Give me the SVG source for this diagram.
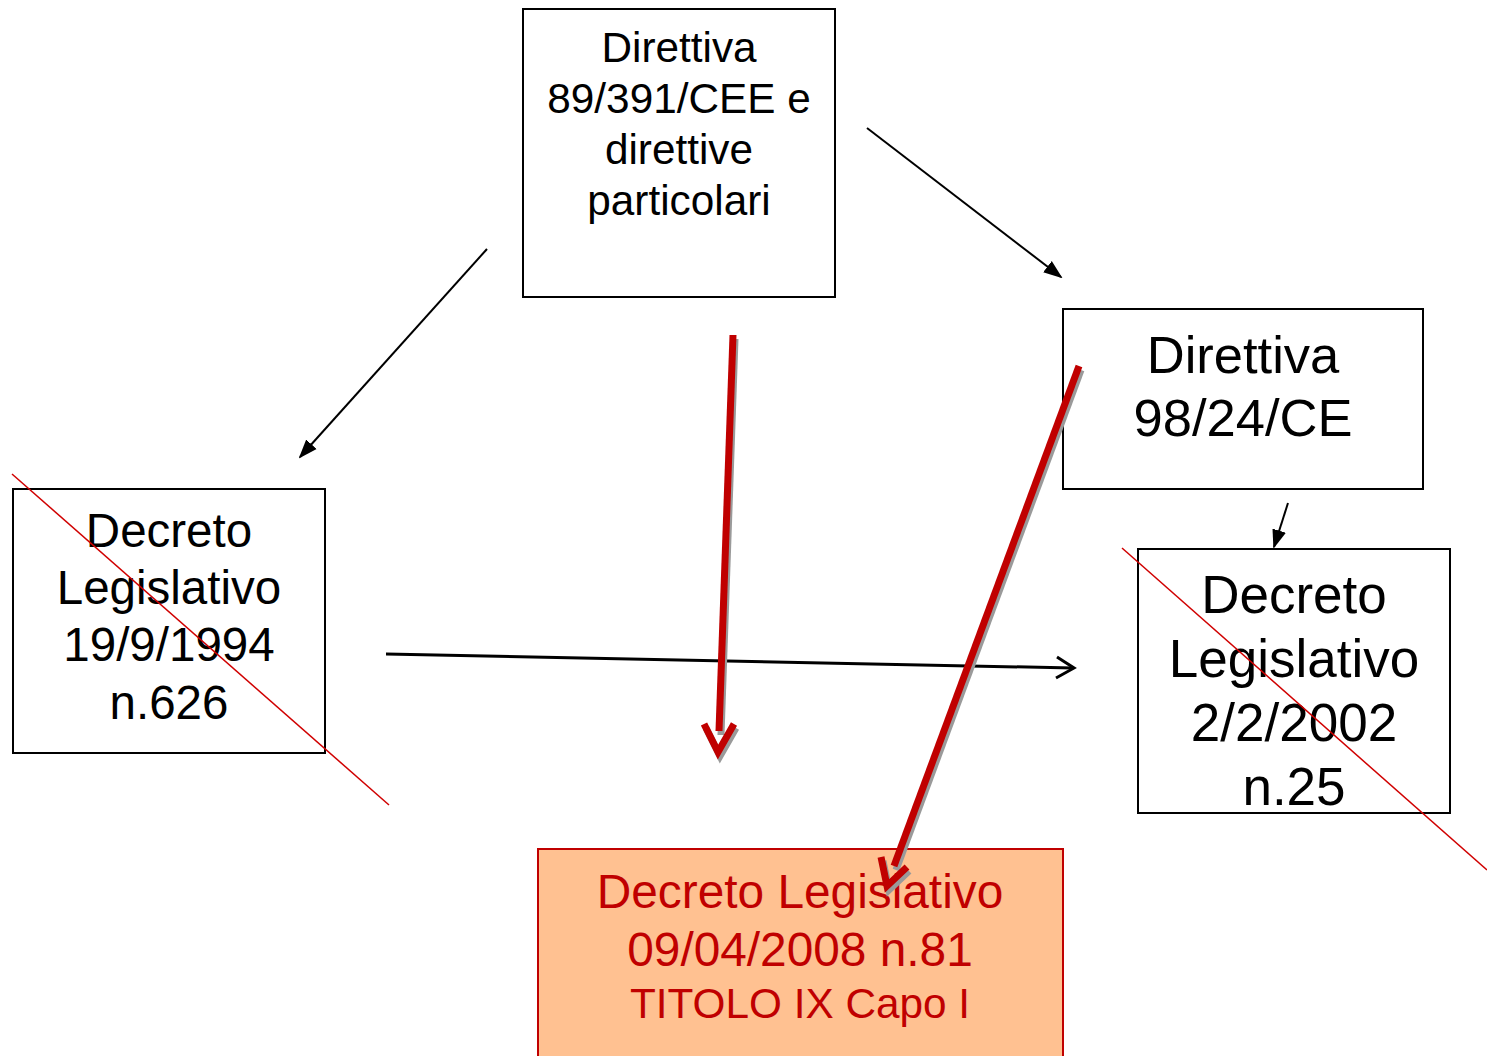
<svg xmlns="http://www.w3.org/2000/svg" width="1487" height="1056" viewBox="0 0 1487 1056">
<defs>
<style>
.box{fill:#fff;stroke:#000;stroke-width:2}
.t{font-family:"Liberation Sans",Arial,sans-serif;text-anchor:middle;fill:#000}
.r{fill:#C00000}
.thin{stroke:#000;stroke-width:2;fill:none}
.red{stroke:#C00000;stroke-width:7;fill:none}
.sh{stroke:#9a9a9a;stroke-width:7;fill:none}
.cross{stroke:#D00000;stroke-width:1.5;fill:none}
</style>
<marker id="tri" viewBox="0 0 10 10" refX="9" refY="5" markerWidth="19" markerHeight="19" markerUnits="userSpaceOnUse" orient="auto"><path d="M0,1.3 L10,5 L0,8.7 z" fill="#000"/></marker>
</defs>
<g id="n1"><rect class="box" x="523" y="9" width="312" height="288"/>
<text class="t" font-size="42.3"><tspan x="679" y="62">Direttiva</tspan><tspan x="679" y="113">89/391/CEE e</tspan><tspan x="679" y="164">direttive</tspan><tspan x="679" y="215">particolari</tspan></text></g>
<g id="n2"><rect class="box" x="1063" y="309" width="360" height="180"/>
<text class="t" font-size="52.5"><tspan x="1243" y="373">Direttiva</tspan><tspan x="1243" y="436">98/24/CE</tspan></text></g>
<g id="n3"><rect class="box" x="13" y="489" width="312" height="264"/>
<text class="t" font-size="47.5"><tspan x="169" y="547">Decreto</tspan><tspan x="169" y="604">Legislativo</tspan><tspan x="169" y="661">19/9/1994</tspan><tspan x="169" y="719">n.626</tspan></text></g>
<g id="n4"><rect class="box" x="1138" y="549" width="312" height="264"/>
<text class="t" font-size="53"><tspan x="1294" y="613">Decreto</tspan><tspan x="1294" y="677">Legislativo</tspan><tspan x="1294" y="741">2/2/2002</tspan><tspan x="1294" y="805">n.25</tspan></text></g>
<g id="n5"><rect x="538" y="849" width="525" height="215" fill="#FFC191" stroke="#C00000" stroke-width="2"/>
<text class="t r" font-size="47.8"><tspan x="800" y="908">Decreto Legislativo</tspan><tspan x="800" y="966">09/04/2008 n.81</tspan></text>
<text class="t r" font-size="42.3" x="800" y="1018">TITOLO IX Capo I</text></g>
<g id="connectors">
<line class="thin" x1="487" y1="249" x2="300" y2="457" marker-end="url(#tri)"/>
<line class="thin" x1="867" y1="128" x2="1061" y2="277" marker-end="url(#tri)"/>
<line class="thin" x1="1288" y1="503" x2="1274" y2="547" marker-end="url(#tri)"/>
<line x1="386" y1="654" x2="1073" y2="668" stroke="#000" stroke-width="3"/>
<polyline points="1057,657 1074,668 1056,678" fill="none" stroke="#000" stroke-width="3"/>
<g transform="translate(2,4)">
<line class="sh" x1="733" y1="335" x2="719" y2="731"/>
<polyline class="sh" points="704,724 718,752 734,724"/>
<line class="sh" x1="1079" y1="366" x2="894" y2="866"/>
<polyline class="sh" points="881,857 887,886 907,867"/>
</g>
<line class="red" x1="733" y1="335" x2="719" y2="731"/>
<polyline class="red" points="704,724 718,752 734,724"/>
<line class="red" x1="1079" y1="366" x2="894" y2="866"/>
<polyline class="red" points="881,857 887,886 907,867"/>
<line class="cross" x1="12" y1="474" x2="389" y2="805"/>
<line class="cross" x1="1122" y1="548" x2="1487" y2="870"/>
</g>
</svg>
